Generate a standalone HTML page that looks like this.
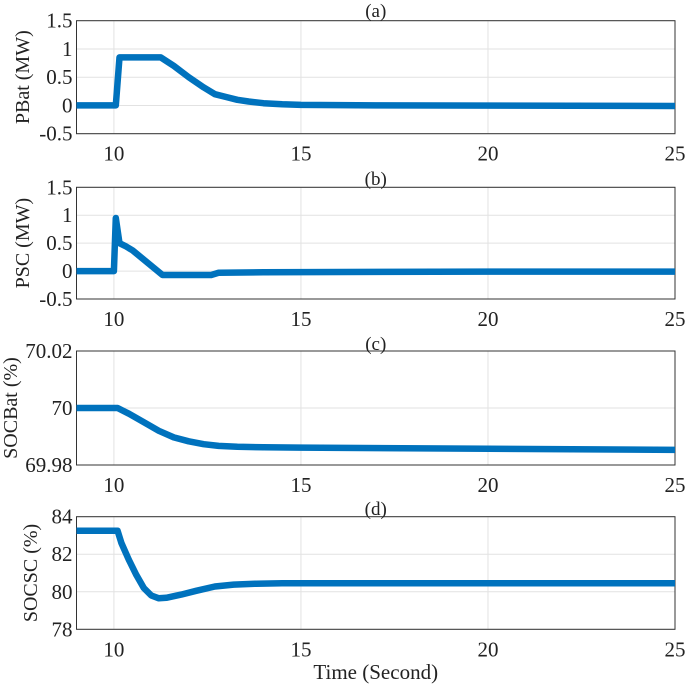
<!DOCTYPE html>
<html><head><meta charset="utf-8"><style>
body{margin:0;background:#fff}
svg text{font-family:"Liberation Serif","Times New Roman",serif;fill:#222}
</style></head><body>
<svg id="chart" width="685" height="685" xmlns="http://www.w3.org/2000/svg" font-family="Liberation Serif, serif"></svg>
<script>
const xTicks=[10,15,20,25];
const titles=["(a)","(b)","(c)","(d)"];
const yLabels=["PBat (MW)","PSC (MW)","SOCBat (%)","SOCSC (%)"];
const yTicksA=[1.5,1,0.5,0,-0.5];
const yTicksB=[1.5,1,0.5,0,-0.5];
const yTicksC=[70.02,70,69.98];
const yTicksD=[84,82,80,78];
const tA=[9,10.05,10.15,11.25,11.6,12.0,12.4,12.7,13.0,13.3,13.6,14.0,14.5,15,17,25];
const vA=[0,0,0.85,0.85,0.7,0.5,0.32,0.2,0.15,0.1,0.07,0.04,0.02,0.01,0,-0.01];
const tB=[9,10.0,10.05,10.15,10.3,10.5,11.3,12.6,12.8,14,20,25];
const vB=[0,0,0.95,0.5,0.45,0.37,-0.07,-0.07,-0.03,-0.02,-0.01,-0.01];
const tC=[9,10.1,10.4,10.8,11.2,11.6,12,12.4,12.8,13.3,14,15,20,25];
const vC=[70,70,69.998,69.995,69.992,69.9897,69.9883,69.9873,69.9867,69.9864,69.9862,69.9861,69.9857,69.9853];
const tD=[9,10.1,10.2,10.4,10.6,10.8,11.0,11.2,11.4,11.8,12.2,12.7,13.2,13.8,14.5,25];
const vD=[83.25,83.25,82.6,81.7,80.9,80.2,79.8,79.65,79.68,79.85,80.05,80.28,80.38,80.43,80.45,80.45];
const panels=[
 {top:20.7,bot:133.7,ymin:-0.5,ymax:1.5,ticks:yTicksA,t:tA,v:vA,ttl:10,lx:22},
 {top:187.3,bot:299,ymin:-0.5,ymax:1.5,ticks:yTicksB,t:tB,v:vB,ttl:178,lx:22},
 {top:351,bot:465,ymin:69.98,ymax:70.02,ticks:yTicksC,t:tC,v:vC,ttl:343,lx:10},
 {top:516.7,bot:629.3,ymin:78,ymax:84,ticks:yTicksD,t:tD,v:vD,ttl:508,lx:30}
];
const L=76.5,R=675,XMIN=9,XMAX=25;
const svg=document.getElementById('chart');
const NS="http://www.w3.org/2000/svg";
const FF="Liberation Serif, Times New Roman, serif";
function mk(tag,attrs,parent){const e=document.createElementNS(NS,tag);for(const k in attrs)e.setAttribute(k,attrs[k]);(parent||svg).appendChild(e);return e;}
const xs=x=>L+(x-XMIN)/(XMAX-XMIN)*(R-L);
panels.forEach((p,i)=>{
 const g=mk('g',{});
 
 
 const ys=y=>p.bot-(y-p.ymin)/(p.ymax-p.ymin)*(p.bot-p.top);
 xTicks.forEach(x=>{
  const l=mk('line',{x1:xs(x),x2:xs(x),y1:p.top,y2:p.bot,stroke:'#e2e2e2','stroke-width':1},g);
  
  
  const t=mk('text',{x:xs(x),y:p.bot+27,'text-anchor':'middle','font-size':21,'font-family':FF},g);
  t.textContent=x;
  
  
 });
 p.ticks.forEach(y=>{
  const l=mk('line',{x1:L,x2:R,y1:ys(y),y2:ys(y),stroke:'#e2e2e2','stroke-width':1},g);
  
  
  const t=mk('text',{x:L-4,y:ys(y)+7,'text-anchor':'end','font-size':21,'font-family':FF},g);
  t.textContent=y;
  
  
 });
 const b=mk('rect',{x:L,y:p.top,width:R-L,height:p.bot-p.top,fill:'none',stroke:'#333','stroke-width':1},g);
 
 
 const pts=p.t.map((t,k)=>xs(t).toFixed(1)+','+ys(p.v[k]).toFixed(1)).join(' ');
 const pl=mk('polyline',{points:pts,fill:'none',stroke:'#0072BD','stroke-width':6.5,'stroke-linejoin':'round'},g);
 
 
 const tt=mk('text',{x:(L+R)/2,y:p.ttl+7,'text-anchor':'middle','font-size':19,'font-family':FF},g);
 tt.textContent=titles[i];
 
 
 const cy=(p.top+p.bot)/2;
 const yl=mk('text',{x:p.lx+7,y:cy,'text-anchor':'middle','font-size':20,'font-family':FF,transform:`rotate(-90 ${p.lx+7} ${cy})`},g);
 yl.textContent=yLabels[i];
 
 
});
const xt=mk('text',{x:(L+R)/2,y:679,'text-anchor':'middle','font-size':21,'font-family':FF});
xt.textContent='Time (Second)';


</script>
</body></html>
